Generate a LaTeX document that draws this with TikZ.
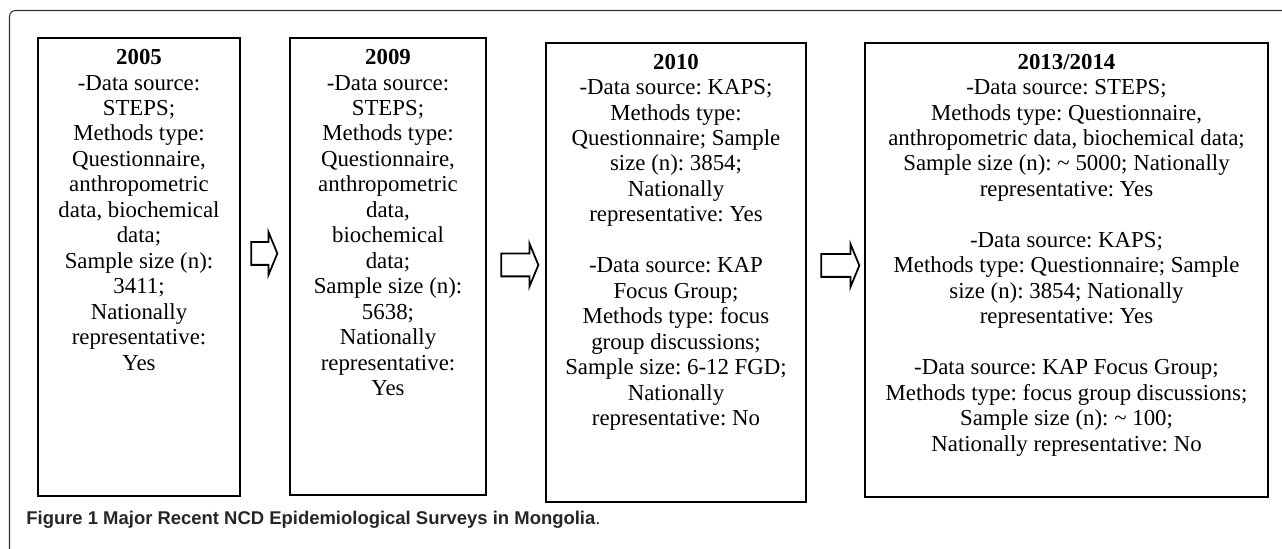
\documentclass[tikz,border=0pt]{standalone}
\usepackage{fontspec}
\setmainfont{Liberation Serif}
\setsansfont{Liberation Sans}
\usetikzlibrary{shapes.arrows}

\begin{document}
\frenchspacing
\begin{tikzpicture}[
    survey/.style={draw, line width=1pt, inner sep=0pt},
    surveytext/.style={anchor=north, align=center, inner sep=0pt,
        font=\fontsize{13}{14.5}\selectfont},
    nextstep/.style={single arrow, draw, line width=1pt, inner xsep=0pt, inner ysep=0.21cm,
        single arrow head extend=0.2cm, single arrow tip angle=135, minimum height=#1}
]
    \useasboundingbox (0,0) rectangle (25.64,-10.98);
    \draw[black!80, line width=0.6pt, rounded corners=0.12cm]
        (25.64,-0.21) -- (0.19,-0.21) -- (0.19,-10.98);

    \node[survey, minimum width=4.04cm, minimum height=9.16cm] (b2005) at (2.78,-5.34)
            {};
    \node[surveytext] (t2005) at (2.78,-0.98)
            {\textbf{2005}\\
            -Data source:\\
            STEPS;\\
            Methods type:\\
            Questionnaire,\\
            anthropometric\\
            data, biochemical\\
            data;\\
            Sample size (n):\\
            3411;\\
            Nationally\\
            representative:\\
            Yes};
    \node[survey, minimum width=3.92cm, minimum height=9.14cm] (b2009) at (7.76,-5.33)
            {};
    \node[surveytext] (t2009) at (7.76,-0.98)
            {\textbf{2009}\\
            -Data source:\\
            STEPS;\\
            Methods type:\\
            Questionnaire,\\
            anthropometric\\
            data,\\
            biochemical\\
            data;\\
            Sample size (n):\\
            5638;\\
            Nationally\\
            representative:\\
            Yes};
    \node[survey, minimum width=5.20cm, minimum height=9.18cm] (b2010) at (13.52,-5.45)
            {};
    \node[surveytext] (t2010) at (13.52,-1.07)
            {\textbf{2010}\\
            -Data source: KAPS;\\
            Methods type:\\
            Questionnaire; Sample\\
            size (n): 3854;\\
            Nationally\\
            representative: Yes\\[14.5pt]
            -Data source: KAP\\
            Focus Group;\\
            Methods type: focus\\
            group discussions;\\
            Sample size: 6-12 FGD;\\
            Nationally\\
            representative: No};
    \node[survey, minimum width=8.06cm, minimum height=9.08cm] (b2013) at (21.33,-5.40)
            {};
    \node[surveytext] (t2013) at (21.33,-1.07)
            {\textbf{2013/2014}\\
            -Data source: STEPS;\\
            Methods type: Questionnaire,\\
            anthropometric data, biochemical data;\\
            Sample size (n): \textasciitilde{} 5000; Nationally\\
            representative: Yes\\[14.5pt]
            -Data source: KAPS;\\
            Methods type: Questionnaire; Sample\\
            size (n): 3854; Nationally\\
            representative: Yes\\[14.5pt]
            -Data source: KAP Focus Group;\\
            Methods type: focus group discussions;\\
            Sample size (n): \textasciitilde{} 100;\\
            Nationally representative: No};

    \node[nextstep=0.52cm] (a1) at (5.24,-5.07) {};
    \node[nextstep=0.74cm] (a2) at (10.35,-5.30) {};
    \node[nextstep=0.76cm] (a3) at (16.76,-5.31) {};

    \node[anchor=base west, inner sep=0pt, text=black!85,
            font=\sffamily\fontsize{10.5}{12}\selectfont] (caption) at (0.52,-10.48)
            {\textbf{Figure 1 Major Recent NCD Epidemiological Surveys in Mongolia}.};
\end{tikzpicture}
\end{document}
